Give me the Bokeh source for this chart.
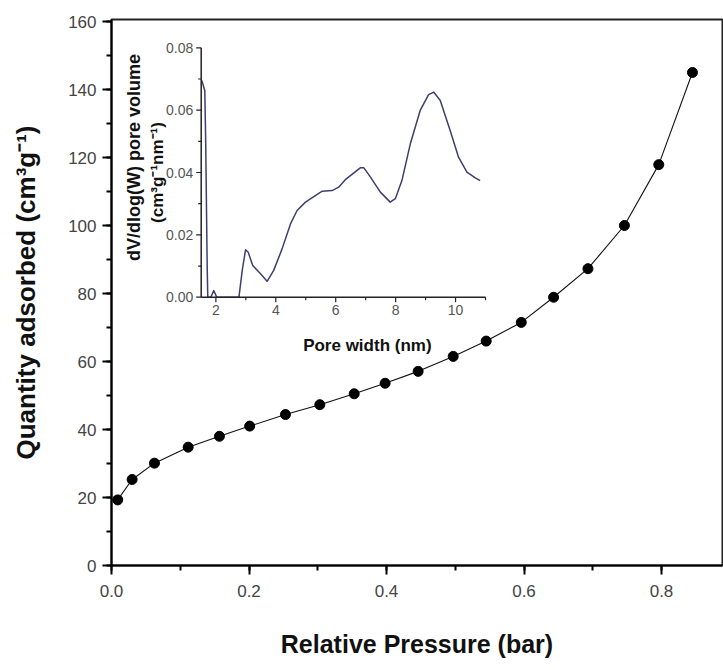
import math
from bokeh.plotting import figure
from bokeh.models import (Range1d, SingleIntervalTicker, PrintfTickFormatter,
                          ColumnDataSource)
from bokeh.core.properties import value
from bokeh.embed import file_html
from bokeh.resources import INLINE

# ---------------- data ----------------
rel_pressure = [0.009, 0.030, 0.0625, 0.1115, 0.157, 0.201, 0.253, 0.303, 0.353,
                0.398, 0.446, 0.497, 0.545, 0.596, 0.643, 0.693, 0.746, 0.796, 0.845]
qty_adsorbed = [19.3, 25.3, 30.1, 34.8, 38.0, 41.0, 44.4, 47.3, 50.5,
                53.6, 57.1, 61.5, 66.0, 71.5, 78.9, 87.3, 100.0, 117.9, 145.0]

pore_width = [1.53, 1.63, 1.66, 1.71, 1.73, 1.83, 1.93, 2.03, 2.77, 2.88, 2.99,
              3.08, 3.23, 3.49, 3.71, 3.93, 4.21, 4.49, 4.71, 4.99, 5.32, 5.55,
              5.88, 6.10, 6.32, 6.49, 6.82, 6.94, 7.16, 7.49, 7.82, 7.99, 8.21,
              8.49, 8.82, 9.10, 9.27, 9.49, 9.82, 10.10, 10.38, 10.66, 10.82]
pore_volume = [0.0695, 0.0663, 0.0500, 0.0096, 0.0, 0.0, 0.0021, 0.0, 0.0, 0.0086,
               0.0152, 0.0144, 0.0102, 0.0075, 0.0051, 0.0086, 0.0155, 0.0235,
               0.0278, 0.0305, 0.0326, 0.0340, 0.0342, 0.0353, 0.0377, 0.0390,
               0.0415, 0.0415, 0.0385, 0.0337, 0.0305, 0.0316, 0.0374, 0.0492,
               0.0599, 0.0650, 0.0658, 0.0631, 0.0535, 0.0449, 0.0401, 0.0383,
               0.0374]

inset_x_ticks = [2, 4, 6, 8, 10]
inset_x_minor = [3, 5, 7, 9, 11]
inset_y_ticks = [0.0, 0.02, 0.04, 0.06, 0.08]
inset_y_minor = [0.01, 0.03, 0.05, 0.07]
inset_x_lim = (1.51, 11.0)
inset_y_lim = (0.0, 0.08)

# ---------------- layout (page pixels) ----------------
W, H = 723, 670
FL, FR, FT, FB = 111, 722, 19, 565            # main frame edges on the page
IL, IR, IT, IB = 200.7, 485, 47.3, 296.7      # inset axes box on the page
Y_PER_PX = 20 / 68.0

p = figure(width=W, height=H, output_backend="svg", toolbar_location=None,
           x_range=Range1d(0, 0.8887),
           y_range=Range1d(0, (FB - FT) * Y_PER_PX),
           min_border_left=FL, min_border_right=W - FR,
           min_border_top=FT, min_border_bottom=H - FB)
p.background_fill_color = "white"
p.border_fill_color = "white"
p.grid.visible = False
p.outline_line_color = "#222222"
p.outline_line_width = 2

for ax in (p.xaxis[0], p.yaxis[0]):
    ax.axis_line_width = 2
    ax.major_tick_line_width = 2
    ax.minor_tick_line_width = 2
    ax.major_tick_in = 0
    ax.major_tick_out = 9
    ax.minor_tick_in = 0
    ax.minor_tick_out = 5
    ax.major_label_text_font = "Liberation Sans"
    ax.major_label_text_font_size = "17px"
    ax.major_label_text_color = "#444444"
    ax.axis_label_text_font = "Liberation Sans"
    ax.axis_label_text_font_style = "bold"
    ax.axis_label_text_color = "#111111"

p.xaxis.axis_label_text_font_size = "25px"
p.yaxis.axis_label_text_font_size = "26px"
p.xaxis.ticker = SingleIntervalTicker(interval=0.2, num_minor_ticks=2)
p.xaxis.formatter = PrintfTickFormatter(format="%.1f")
p.yaxis.ticker = SingleIntervalTicker(interval=20, num_minor_ticks=2)
p.xaxis.axis_label = "Relative Pressure (bar)"
p.yaxis.axis_label = "Quantity adsorbed (cm³g⁻¹)"
p.xaxis.major_label_standoff = 10
p.yaxis.major_label_standoff = 6
p.xaxis.axis_label_standoff = 30
p.yaxis.axis_label_standoff = 24

src = ColumnDataSource(dict(x=rel_pressure, y=qty_adsorbed))
p.line("x", "y", source=src, line_color="#111111", line_width=1.1)
p.scatter("x", "y", source=src, size=10, fill_color="black", line_color="black")

# ---------------- inset via extra ranges ----------------
xpp = (inset_x_lim[1] - inset_x_lim[0]) / (IR - IL)
ypp = (inset_y_lim[1] - inset_y_lim[0]) / (IB - IT)
p.extra_x_ranges = {"ix": Range1d(inset_x_lim[0] - (IL - FL) * xpp,
                                  inset_x_lim[1] + (FR - IR) * xpp)}
p.extra_y_ranges = {"iy": Range1d(inset_y_lim[0] - (FB - IB) * ypp,
                                  inset_y_lim[1] + (IT - FT) * ypp)}
kw = dict(x_range_name="ix", y_range_name="iy")

# inset curve
p.line(pore_width, pore_volume, line_color="#3e3e72", line_width=1.5,
       line_join="round", **kw)

# inset axis lines
x0, x1 = inset_x_lim
y0, y1 = inset_y_lim
p.segment(x0=[x0, x0], y0=[y0, y0], x1=[x0, x1], y1=[y1, y0],
          line_color="#222222", line_width=1.5, **kw)
# ticks
p.ray(x=[x0] * len(inset_y_ticks), y=inset_y_ticks, length=5, length_units="screen",
      angle=math.pi, line_color="#222222", line_width=1.2, **kw)
p.ray(x=[x0] * len(inset_y_minor), y=inset_y_minor, length=3, length_units="screen",
      angle=math.pi, line_color="#222222", line_width=1.2, **kw)
p.ray(x=inset_x_ticks, y=[y0] * len(inset_x_ticks), length=5, length_units="screen",
      angle=-math.pi / 2, line_color="#222222", line_width=1.2, **kw)
p.ray(x=inset_x_minor, y=[y0] * len(inset_x_minor), length=3, length_units="screen",
      angle=-math.pi / 2, line_color="#222222", line_width=1.2, **kw)

# tick labels
p.text(x=[x0] * len(inset_y_ticks), y=inset_y_ticks,
       text=["%.2f" % v for v in inset_y_ticks], x_offset=-8,
       text_align="right", text_baseline="middle", text_font=value("Liberation Sans"),
       text_font_size="14px", text_color="#555555", **kw)
p.text(x=inset_x_ticks, y=[y0] * len(inset_x_ticks),
       text=[str(v) for v in inset_x_ticks], y_offset=8,
       text_align="center", text_baseline="top", text_font=value("Liberation Sans"),
       text_font_size="14px", text_color="#555555", **kw)

# inset axis titles
xmid = (x0 + x1) / 2
ymid = (y0 + y1) / 2
p.text(x=[xmid], y=[y0], text=["Pore width (nm)"], x_offset=24, y_offset=48,
       text_align="center", text_baseline="middle", text_font=value("Liberation Sans"),
       text_font_style="bold", text_font_size="17px", text_color="#111111", **kw)
p.text(x=[x0, x0], y=[ymid, ymid], text=["dV/dlog(W) pore volume", "(cm³g⁻¹nm⁻¹)"],
       x_offset=[-67, -44], y_offset=[-15, 0], angle=math.pi / 2,
       text_align="center", text_baseline="middle", text_font=value("Liberation Sans"),
       text_font_style="bold", text_font_size=["18px", "17px"],
       text_color="#111111", **kw)

open("out.html", "w").write(file_html(p, INLINE))
